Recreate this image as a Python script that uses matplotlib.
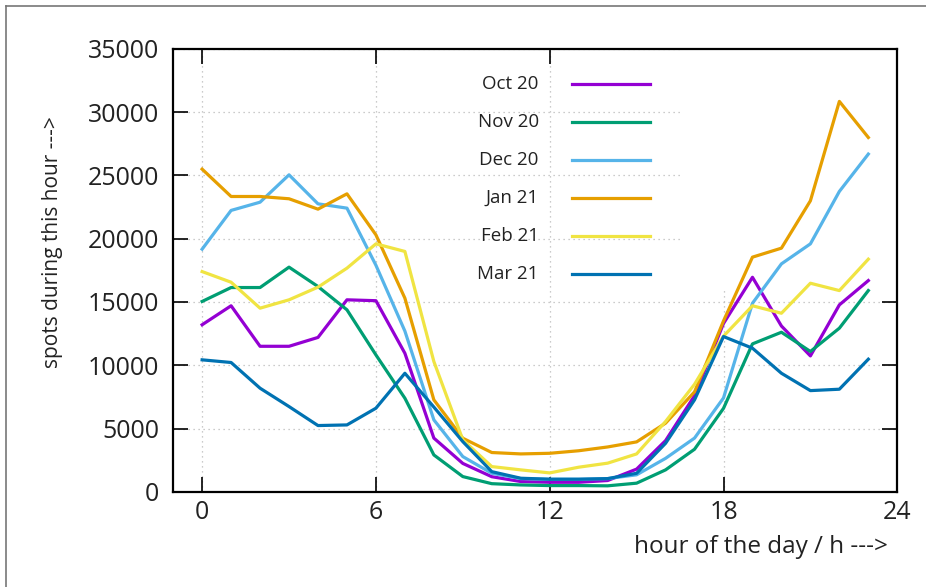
import matplotlib.pyplot as plt
from matplotlib.lines import Line2D
from matplotlib.patches import Rectangle

plt.rcParams['font.family'] = ['Open Sans', 'DejaVu Sans']

hours = list(range(24))

oct20 = [13200, 14700, 11500, 11500, 12200, 15170, 15100, 10950, 4250, 2250,
         1200, 820, 760, 760, 900, 1800, 4050, 7600, 13300, 16950,
         13100, 10740, 14770, 16690]
nov20 = [15040, 16140, 16140, 17750, 16220, 14380, 10820, 7400, 2920, 1210,
         650, 550, 500, 500, 480, 690, 1740, 3370, 6600, 11690,
         12610, 11090, 12930, 15900]
dec20 = [19170, 22230, 22880, 25040, 22750, 22410, 17900, 12700, 5690, 2790,
         1470, 1050, 1000, 1000, 1050, 1350, 2650, 4250, 7420, 14900,
         18010, 19590, 23730, 26680]
jan21 = [25490, 23330, 23330, 23150, 22330, 23540, 20300, 15300, 7270, 4240,
         3110, 3000, 3050, 3250, 3550, 3950, 5430, 7900, 13500, 18540,
         19250, 22990, 30840, 27990]
feb21 = [17400, 16560, 14510, 15170, 16170, 17670, 19590, 18990, 10300, 4110,
         2000, 1740, 1500, 1950, 2270, 3000, 5560, 8500, 12300, 14700,
         14110, 16480, 15900, 18380]
mar21 = [10430, 10220, 8190, 6740, 5240, 5290, 6610, 9370, 6700, 3970,
         1600, 1080, 1000, 1000, 1050, 1470, 3840, 7270, 12270, 11350,
         9370, 8000, 8110, 10480]

labels = ['Oct 20', 'Nov 20', 'Dec 20', 'Jan 21', 'Feb 21', 'Mar 21']
series = [oct20, nov20, dec20, jan21, feb21, mar21]
colors = ['#9400D3', '#009E73', '#56B4E9', '#E69F00', '#F0E442', '#0072B2']

fig = plt.figure(figsize=(9.26, 5.87), dpi=100)
ax = fig.add_axes([0.187, 0.162, 0.782, 0.755])

# thin frame around the whole canvas (left and top edge)
fig.add_artist(Line2D([0.007, 0.007], [0, 0.989], transform=fig.transFigure,
                      color='#777777', lw=1.2))
fig.add_artist(Line2D([0.007, 1.0], [0.989, 0.989], transform=fig.transFigure,
                      color='#777777', lw=1.2))

ax.set_xlim(-1, 24)
ax.set_ylim(0, 35000)
ax.set_xticks([0, 6, 12, 18, 24])
ax.set_yticks(range(0, 35001, 5000))
ax.tick_params(direction='in', length=11, width=1.2, labelsize=18,
               top=True, right=True, pad=6, colors='black')
ax.tick_params(axis='y', pad=10)
for lab in ax.get_xticklabels() + ax.get_yticklabels():
    lab.set_color('#222222')

ax.grid(True, color='#bbbbbb', ls=(0, (1, 3)), lw=0.9)
ax.set_axisbelow(True)
for s in ax.spines.values():
    s.set_linewidth(1.6)

# key area hides the grid in the upper right
ax.add_patch(Rectangle((0.703, 0.46), 0.297, 0.54, transform=ax.transAxes,
                       facecolor='white', edgecolor='none', zorder=1.5))

for data, c in zip(series, colors):
    ax.plot(hours, data, color=c, lw=2.3, zorder=3)

# key: right aligned text followed by a line sample
for i, (lab, c) in enumerate(zip(labels, colors)):
    y = 0.921 - i * 0.0858
    ax.text(0.505, y, lab, transform=ax.transAxes, ha='right', va='center',
            fontsize=13.5, color='#222222', zorder=4)
    ax.add_line(Line2D([0.551, 0.658], [y, y], transform=ax.transAxes,
                       color=c, lw=2.3, zorder=4))

fig.text(0.057, 0.587, 'spots during this hour --->', rotation=90,
         ha='center', va='center', fontsize=15, color='#222222')
fig.text(0.959, 0.068, 'hour of the day / h --->', ha='right', va='center',
         fontsize=17.5, color='#222222')

fig.savefig('out.png', dpi=100)
